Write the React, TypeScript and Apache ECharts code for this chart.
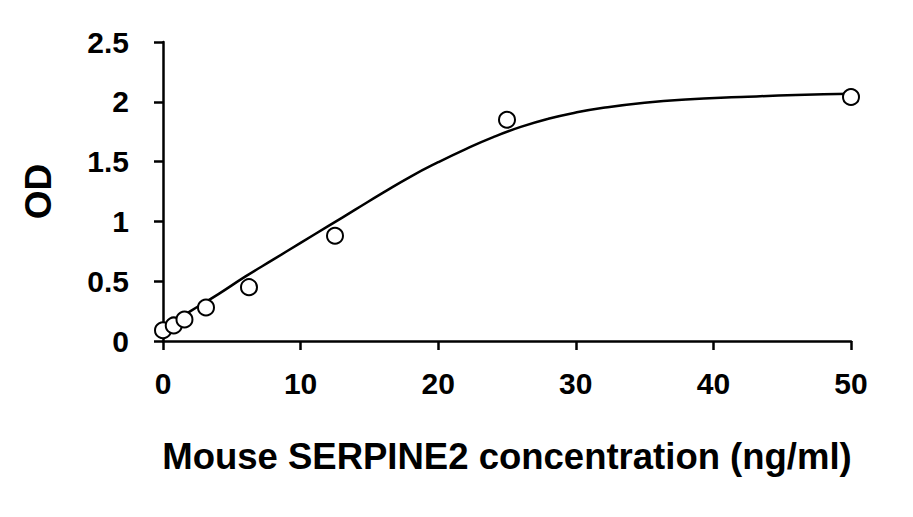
import React, { useEffect, useRef } from "react";
import * as echarts from "echarts";

const concentrations = [0, 0.78, 1.56, 3.125, 6.25, 12.5, 25, 50];
const odValues = [0.09, 0.13, 0.18, 0.28, 0.45, 0.88, 1.85, 2.04];

const curveX = [0, 2, 4, 6, 8, 10, 12, 14, 16, 18, 20, 22, 24, 26, 28, 30, 32, 35, 38, 42, 46, 50];
const curveY = [0.1, 0.25, 0.39, 0.54, 0.68, 0.82, 0.96, 1.1, 1.24, 1.375, 1.495, 1.605, 1.705, 1.79, 1.858, 1.91, 1.95, 1.993, 2.02, 2.04, 2.057, 2.068];

const xTicks = [0, 10, 20, 30, 40, 50];
const yTicks = [0, 0.5, 1, 1.5, 2, 2.5];

const FONT = "'Liberation Sans', Arial, sans-serif";

export default function App() {
  const ref = useRef<HTMLDivElement>(null);
  useEffect(() => {
    if (!ref.current) return;
    const chart = echarts.init(ref.current, undefined, { renderer: "svg" });
    chart.setOption({
      animation: false,
      backgroundColor: "#ffffff",
      grid: { left: 163, right: 62, top: 42, bottom: 176, containLabel: false },
      xAxis: {
        type: "value",
        min: xTicks[0],
        max: xTicks[xTicks.length - 1],
        interval: 10,
        name: "Mouse SERPINE2 concentration (ng/ml)",
        nameLocation: "middle",
        nameGap: 97,
        nameTextStyle: { fontFamily: FONT, fontWeight: "bold", fontSize: 36.5, color: "#000" },
        axisLine: { lineStyle: { color: "#000", width: 2.5 } },
        axisTick: { show: true, length: 9, inside: false, lineStyle: { color: "#000", width: 2.5 } },
        axisLabel: { fontFamily: FONT, fontWeight: "bold", fontSize: 30, color: "#000", margin: 27 },
        splitLine: { show: false },
      },
      yAxis: {
        type: "value",
        min: yTicks[0],
        max: yTicks[yTicks.length - 1],
        interval: 0.5,
        name: "OD",
        nameLocation: "middle",
        nameGap: 106,
        nameRotate: 90,
        nameTextStyle: { fontFamily: FONT, fontWeight: "bold", fontSize: 37, color: "#000" },
        axisLine: { show: true, lineStyle: { color: "#000", width: 2.5 } },
        axisTick: { show: true, length: 9, inside: false, lineStyle: { color: "#000", width: 2.5 } },
        axisLabel: { fontFamily: FONT, fontWeight: "bold", fontSize: 30, color: "#000", margin: 34 },
        splitLine: { show: false },
      },
      series: [
        {
          type: "line",
          data: curveX.map((x, i) => [x, curveY[i]]),
          smooth: true,
          showSymbol: false,
          symbol: "none",
          lineStyle: { color: "#000", width: 2.5 },
          z: 2,
        },
        {
          type: "scatter",
          data: concentrations.map((x, i) => [x, odValues[i]]),
          symbol: "circle",
          symbolSize: 16,
          itemStyle: { color: "#ffffff", borderColor: "#000", borderWidth: 2, opacity: 1 },
          z: 3,
        },
      ],
    });
    return () => chart.dispose();
  }, []);
  return <div ref={ref} style={{ width: 913, height: 517, position: "absolute", left: 0, top: 0 }} />;
}
